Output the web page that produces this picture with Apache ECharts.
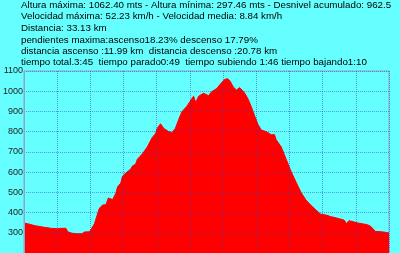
<!DOCTYPE html>
<html>
<head>
<meta charset="utf-8">
<script src="https://cdn.jsdelivr.net/npm/echarts@6/dist/echarts.min.js"></script>
<style>
html,body{margin:0;padding:0;background:#66FFFF;}
#c{width:400px;height:253px;}
</style>
</head>
<body>
<div id="c"></div>
<script>
const infoLines = [
  "Altura máxima: 1062.40 mts - Altura mínima: 297.46 mts - Desnivel acumulado: 962.5",
  "Velocidad máxima: 52.23 km/h - Velocidad media: 8.84 km/h",
  "Distancia: 33.13 km",
  "pendientes maxima:ascenso18.23% descenso 17.79%",
  "distancia ascenso :11.99 km  distancia descenso :20.78 km",
  "tiempo total.3:45  tiempo parado0:49  tiempo subiendo 1:46 tiempo bajando1:10"
];
const yTicks = [200, 300, 400, 500, 600, 700, 800, 900, 1000, 1100];
const distKm = [0,0.39,0.99,1.73,2.47,3.01,3.34,3.79,3.97,4.33,4.72,5.23,5.47,5.92,6.06,6.12,6.37,6.51,6.81,7.11,7.41,7.62,8.01,8.30,8.46,8.75,8.90,9.20,9.35,9.65,9.80,10.10,10.25,10.70,11.15,11.59,11.89,12.04,12.34,12.64,13.09,13.39,13.68,13.99,14.28,14.73,15.18,15.33,15.53,15.78,16.23,16.68,16.97,17.42,17.87,18.17,18.41,18.62,18.92,19.21,19.51,19.66,19.96,20.27,20.56,20.86,21.16,21.46,21.91,22.35,22.65,22.80,23.25,23.70,24.15,24.60,25.04,25.49,25.94,26.39,26.83,27.28,27.73,28.34,28.93,29.17,29.38,30.13,31.03,31.32,31.77,32.51,33.0];
const elevation = [348,344,335,328,322,320,322,322,304,298,295,295,304,305,314,322,345,352,421,437,439,472,464,495,527,546,580,595,603,615,630,640,664,690,725,771,790,816,839,816,800,796,816,861,899,926,964,975,944,975,990,978,998,1013,1043,1059,1062,1051,1021,1006,1018,1024,990,960,922,877,835,808,800,785,785,760,725,664,603,550,500,462,436,413,392,388,380,372,363,345,360,349,340,333,307,304,299];

const chart = echarts.init(document.getElementById('c'), null, {renderer:'canvas'});
const lineY = [6.2, 17.3, 29.2, 41.7, 52.5, 63];
const graphics = infoLines.map((t,i)=>({
  type:'text', left:21, top:lineY[i]-6, z:10,
  style:{text:t, fill:'#000', font:'9.75px "Liberation Sans", Arial, sans-serif', verticalAlign:'top'}
}));
chart.setOption({
  backgroundColor:'#66FFFF',
  animation:false,
  graphic: graphics,
  grid:{left:20.7, right:11, top:71, bottom:-15.4, show:true, borderColor:'#8fa3c8', borderWidth:1, backgroundColor:'transparent'},
  xAxis:{type:'value', min:0, max:33, interval:3, z:5,
    axisLine:{show:false}, axisTick:{show:false}, axisLabel:{show:false},
    splitLine:{show:true, lineStyle:{type:'dotted', color:'rgba(50,60,190,0.5)', width:1}}},
  yAxis:{type:'value', min:yTicks[0], max:yTicks[yTicks.length-1], interval:100, z:5,
    axisLine:{show:true, lineStyle:{color:'#8fa3c8'}}, axisTick:{show:false},
    axisLabel:{show:true, color:'#222', fontSize:9, fontFamily:'"Liberation Sans", Arial, sans-serif', margin:1, padding:[0,0,7,0],
      formatter:(v)=> v===200 ? '' : String(v)},
    splitLine:{show:true, lineStyle:{type:'dotted', color:'rgba(50,60,190,0.5)', width:1}}},
  series:[{type:'line', showSymbol:false, symbol:'none', z:2,
    data: distKm.map((d,i)=>[d, elevation[i]]),
    lineStyle:{color:'#FF0000', width:1},
    areaStyle:{color:'#FF0000', opacity:1, origin:'start'}
  }]
});
</script>
</body>
</html>
